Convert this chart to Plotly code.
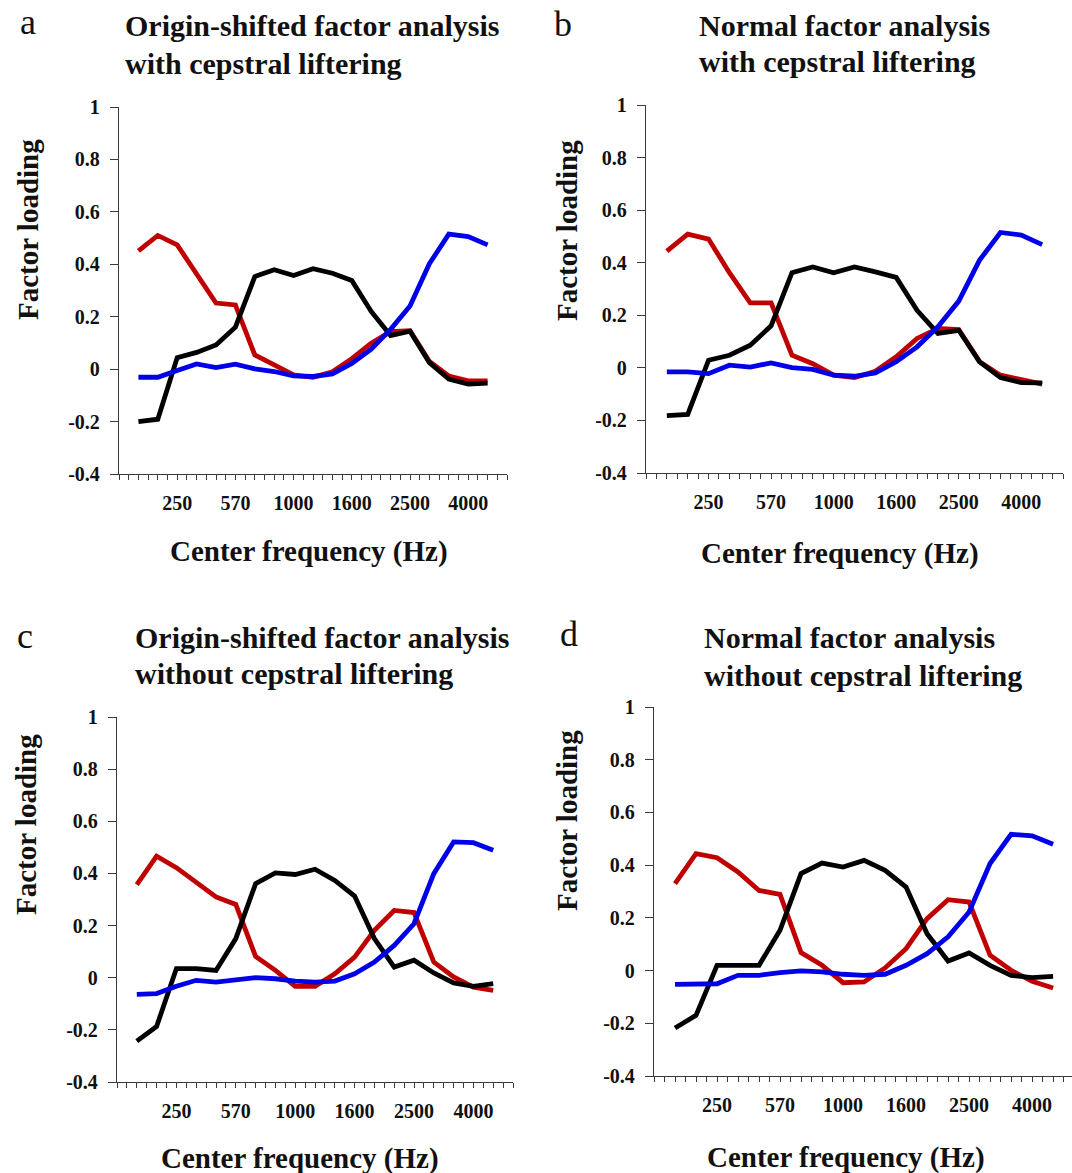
import plotly.graph_objects as go

# ---------------- data ----------------
band = list(range(1, 20))  # 19 frequency bands
tick_freq_labels = ["250", "570", "1000", "1600", "2500", "4000"]
tick_freq_bands = [3, 6, 9, 12, 15, 18]

a_red = [0.451, 0.510, 0.474, 0.360, 0.252, 0.245, 0.054, 0.016, -0.022, -0.031,
         -0.010, 0.040, 0.099, 0.143, 0.147, 0.029, -0.026, -0.045, -0.045]
a_black = [-0.200, -0.191, 0.044, 0.064, 0.092, 0.160, 0.353, 0.379, 0.357, 0.383,
           0.366, 0.338, 0.220, 0.128, 0.145, 0.025, -0.038, -0.057, -0.053]
a_blue = [-0.031, -0.031, -0.005, 0.020, 0.006, 0.019, 0.001, -0.009, -0.026, -0.028,
          -0.018, 0.022, 0.076, 0.152, 0.241, 0.402, 0.515, 0.506, 0.474]

b_red = [0.444, 0.509, 0.490, 0.362, 0.247, 0.247, 0.048, 0.016, -0.028, -0.037,
         -0.013, 0.042, 0.112, 0.150, 0.146, 0.023, -0.028, -0.047, -0.062]
b_black = [-0.182, -0.177, 0.029, 0.048, 0.086, 0.160, 0.362, 0.384, 0.362, 0.384,
           0.365, 0.344, 0.219, 0.131, 0.143, 0.023, -0.037, -0.056, -0.057]
b_blue = [-0.015, -0.015, -0.022, 0.010, 0.003, 0.019, 0.001, -0.006, -0.028, -0.032,
          -0.019, 0.023, 0.080, 0.156, 0.254, 0.410, 0.515, 0.505, 0.469]

c_red = [0.357, 0.466, 0.422, 0.367, 0.310, 0.281, 0.082, 0.028, -0.033, -0.033,
         0.015, 0.079, 0.182, 0.258, 0.250, 0.060, 0.003, -0.036, -0.049]
c_black = [-0.243, -0.187, 0.035, 0.035, 0.028, 0.150, 0.361, 0.402, 0.396, 0.416,
           0.373, 0.313, 0.150, 0.041, 0.067, 0.018, -0.020, -0.033, -0.023]
c_blue = [-0.064, -0.061, -0.033, -0.010, -0.017, -0.008, 0.000, -0.004, -0.013, -0.017,
          -0.013, 0.015, 0.060, 0.124, 0.207, 0.399, 0.521, 0.518, 0.489]

d_red = [0.330, 0.444, 0.428, 0.374, 0.304, 0.289, 0.068, 0.020, -0.046, -0.043,
         0.010, 0.083, 0.197, 0.269, 0.260, 0.058, 0.001, -0.041, -0.066]
d_black = [-0.218, -0.170, 0.020, 0.022, 0.020, 0.153, 0.368, 0.408, 0.393, 0.418,
           0.380, 0.317, 0.140, 0.036, 0.067, 0.020, -0.018, -0.027, -0.022]
d_blue = [-0.052, -0.052, -0.050, -0.018, -0.018, -0.008, -0.001, -0.005, -0.014, -0.018,
          -0.014, 0.020, 0.064, 0.128, 0.222, 0.406, 0.517, 0.511, 0.479]

y_tick_vals = [-0.4, -0.2, 0, 0.2, 0.4, 0.6, 0.8, 1]
y_tick_text = ["-0.4", "-0.2", "0", "0.2", "0.4", "0.6", "0.8", "1"]

titles = [
    ("Origin-shifted factor analysis", "with cepstral liftering"),
    ("Normal factor analysis", "with cepstral liftering"),
    ("Origin-shifted factor analysis", "without cepstral liftering"),
    ("Normal factor analysis", "without cepstral liftering"),
]
letters = ["a", "b", "c", "d"]
y_title = "Factor loading"
x_title = "Center frequency (Hz)"

# ---------------- layout geometry (pixels) ----------------
W, H = 1072, 1173
FONT = "Liberation Serif"
RED, BLACK, BLUE = "#C00000", "#000000", "#0000E8"

panels = [
    dict(series=(a_red, a_black, a_blue), x=(119, 507), y=(107, 474), xr=(0, 20),
         title_x=123, title_y=(26, 63), letter=(28, 22), ylab=(28, 230), xlab=(309, 551)),
    dict(series=(b_red, b_black, b_blue), x=(646, 1063), y=(105, 473), xr=(0, 20),
         title_x=697, title_y=(26, 62), letter=(563, 24), ylab=(567, 231), xlab=(840, 553)),
    dict(series=(c_red, c_black, c_blue), x=(117, 513), y=(717, 1082), xr=(0, 20),
         title_x=133, title_y=(637, 673), letter=(25, 636), ylab=(26, 825), xlab=(300, 1158)),
    dict(series=(d_red, d_black, d_blue), x=(654, 1072), y=(707, 1076), xr=(0, 19.9),
         title_x=702, title_y=(637, 675), letter=(569, 634), ylab=(567, 821), xlab=(846, 1157)),
]


def px_x(p):
    return p / W


def px_y(p):
    return 1 - p / H


x_tick_vals = [i * 0.5 for i in range(0, 41)]
x_tick_text = []
for v in x_tick_vals:
    if v in tick_freq_bands:
        x_tick_text.append(tick_freq_labels[tick_freq_bands.index(v)])
    else:
        x_tick_text.append("")

fig = go.Figure()
annotations = []
layout_axes = {}

for i, p in enumerate(panels):
    n = "" if i == 0 else str(i + 1)
    xa, ya = "x" + n, "y" + n
    for vals, col in zip((p["series"][0], p["series"][1], p["series"][2]), (RED, BLACK, BLUE)):
        fig.add_trace(go.Scatter(x=band, y=vals, mode="lines", xaxis=xa, yaxis=ya,
                                 line=dict(color=col, width=4.8), showlegend=False,
                                 hoverinfo="skip"))
    layout_axes["xaxis" + n] = dict(
        domain=[px_x(p["x"][0]), px_x(p["x"][1])], anchor=ya, range=list(p["xr"]),
        automargin=False,
        showgrid=False, zeroline=False, showline=True, linecolor="#3a3a3a", linewidth=1.4,
        ticks="outside", ticklen=5, tickwidth=1.2, tickcolor="#3a3a3a",
        tickmode="array", tickvals=x_tick_vals, ticktext=x_tick_text,
        tickfont=dict(family=FONT, size=20, color="#111", weight="bold"),
        ticklabelstandoff=6, fixedrange=True)
    layout_axes["yaxis" + n] = dict(
        domain=[px_y(p["y"][1]), px_y(p["y"][0])], anchor=xa, range=[-0.4, 1],
        automargin=False,
        showgrid=False, zeroline=False, showline=True, linecolor="#3a3a3a", linewidth=1.4,
        ticks="outside", ticklen=8, tickwidth=1.2, tickcolor="#3a3a3a",
        tickmode="array", tickvals=y_tick_vals, ticktext=y_tick_text,
        tickfont=dict(family=FONT, size=20, color="#111", weight="bold"),
        ticklabelstandoff=6, fixedrange=True)

    # titles
    for line, ty in zip(titles[i], p["title_y"]):
        annotations.append(dict(text=line, x=px_x(p["title_x"]), y=px_y(ty), xref="paper",
                                yref="paper", xanchor="left", yanchor="middle", showarrow=False,
                                font=dict(family=FONT, size=30, color="#111", weight="bold")))
    # panel letter
    annotations.append(dict(text=letters[i], x=px_x(p["letter"][0]), y=px_y(p["letter"][1]),
                            xref="paper", yref="paper", xanchor="center", yanchor="middle",
                            showarrow=False, font=dict(family=FONT, size=36, color="#111")))
    # y-axis title
    annotations.append(dict(text=y_title, x=px_x(p["ylab"][0]), y=px_y(p["ylab"][1]),
                            xref="paper", yref="paper", xanchor="center", yanchor="middle",
                            textangle=-90, showarrow=False,
                            font=dict(family=FONT, size=29, color="#111", weight="bold")))
    # x-axis title
    annotations.append(dict(text=x_title, x=px_x(p["xlab"][0]), y=px_y(p["xlab"][1]),
                            xref="paper", yref="paper", xanchor="center", yanchor="middle",
                            showarrow=False,
                            font=dict(family=FONT, size=29, color="#111", weight="bold")))

fig.update_layout(width=W, height=H, margin=dict(l=0, r=0, t=0, b=0),
                  template="none",
                  paper_bgcolor="white", plot_bgcolor="white",
                  annotations=annotations, **layout_axes)

fig.write_html("out.html")
